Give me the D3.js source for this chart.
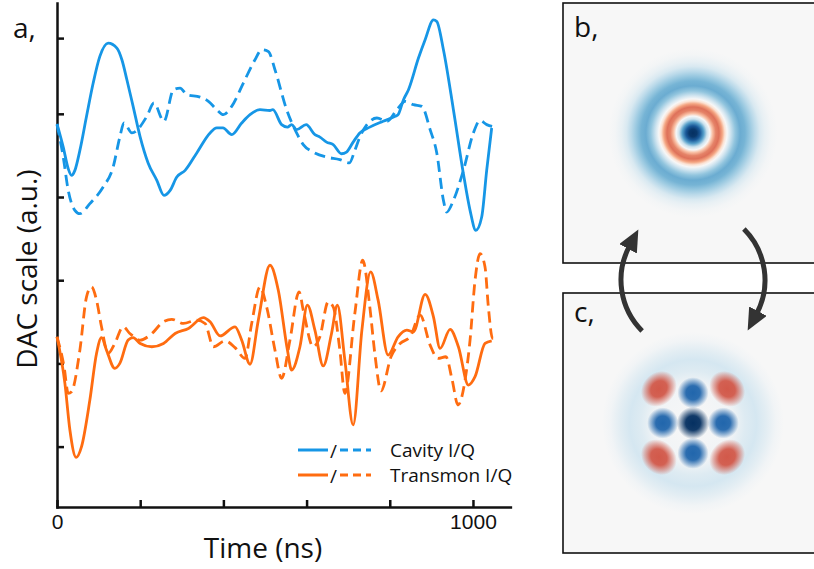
<!DOCTYPE html>
<html lang="en">
<head>
<meta charset="UTF-8">
<title>Cavity and transmon drive pulses</title>
<style>
  body { margin: 0; background: #fff; }
  svg { display: block; font-family: "Open Sans", "DejaVu Sans", sans-serif; }
  svg .axis path, svg .axis line { stroke: #111; stroke-width: 2.5px; }
  svg .axis text { font-size: 21px; fill: #111; }
  svg .trace { fill: none; stroke-width: 2.8px; stroke-linejoin: round; }
  svg .dashed { stroke-dasharray: 11 6; }
  svg .title { font-size: 28px; fill: #111; }
  svg .legend text { font-size: 19px; fill: #111; }
  svg .panel-box { fill: none; stroke: #111; stroke-width: 1.6px; }
  svg .cycle { fill: none; stroke: #333; stroke-width: 5px; }
</style>
</head>
<body>
<div id="chart"></div>
<script src="https://cdn.jsdelivr.net/npm/d3@7"></script>
<script>
  // ticks (time in ns, DAC scale in a.u.)
  var xTicks = [0, 200, 400, 600, 800, 1000];
  var xTickLabels = ['0', '', '', '', '', '1000'];
  var yTicks = [-3, -2, -1, 0, 1, 1.91];

  // [time ns, amplitude a.u.]
  var cavityI = [[0,0.88],[15,0.60],[27,0.34],[35,0.26],[43,0.32],[55,0.56],[71,0.97],[87,1.37],[103,1.69],[123,1.85],
    [144,1.79],[156,1.65],[168,1.41],[183,1.09],[200,0.72],[219,0.41],[240,0.20],[257,0.02],[272,0.08],[288,0.24],
    [308,0.32],[336,0.53],[368,0.77],[384,0.83],[399,0.83],[420,0.75],[444,0.89],[464,0.99],[488,1.05],[512,1.04],
    [519,1.05],[540,0.87],[554,0.84],[564,0.87],[576,0.81],[599,0.87],[620,0.75],[632,0.72],[648,0.66],[664,0.63],
    [684,0.52],[696,0.54],[712,0.66],[728,0.77],[752,0.84],[784,0.91],[813,0.97],[820,0.99],[833,1.17],[845,1.29],
    [869,1.67],[885,1.89],[905,2.13],[913,2.11],[929,1.77],[953,1.05],[977,0.28],[993,-0.16],[1007,-0.40],[1021,-0.24],
    [1033,0.32],[1045,0.83]];
  var cavityQ = [[0,0.87],[15,0.48],[27,0.08],[43,-0.16],[55,-0.20],[79,-0.08],[111,0.12],[135,0.36],[151,0.72],[161,0.89],
    [180,0.77],[216,0.97],[233,1.13],[257,0.91],[280,1.29],[296,1.31],[312,1.23],[344,1.20],[364,1.15],[384,1.05],
    [400,0.99],[420,1.09],[448,1.37],[476,1.65],[492,1.77],[508,1.75],[524,1.53],[552,1.05],[576,0.77],[592,0.63],
    [616,0.54],[648,0.48],[680,0.45],[703,0.41],[716,0.56],[728,0.72],[745,0.87],[769,0.95],[793,0.91],[817,1.05],
    [837,1.15],[857,1.11],[877,1.09],[897,0.81],[913,0.53],[929,-0.04],[937,-0.18],[953,-0.04],[977,0.32],[1001,0.77],
    [1017,0.92],[1033,0.87],[1057,0.84]];
  var transmonI = [[0,-1.68],[19,-2.24],[31,-2.80],[46,-3.13],[59,-3.00],[79,-2.44],[95,-1.88],[107,-1.69],[119,-1.84],[139,-2.06],
    [151,-2.00],[171,-1.72],[183,-1.69],[200,-1.76],[228,-1.80],[256,-1.76],[284,-1.64],[316,-1.58],[352,-1.45],[368,-1.50],
    [392,-1.67],[428,-1.56],[444,-1.72],[464,-2.01],[484,-1.48],[512,-0.82],[532,-1.12],[554,-1.84],[564,-2.08],[584,-1.80],
    [602,-1.30],[620,-1.60],[640,-2.03],[660,-1.64],[674,-1.30],[692,-1.96],[712,-2.74],[733,-1.60],[754,-0.90],[772,-1.24],
    [796,-1.90],[820,-1.68],[841,-1.60],[857,-1.62],[885,-1.17],[905,-1.44],[921,-1.82],[945,-1.59],[965,-1.80],[989,-2.26],
    [1005,-2.16],[1029,-1.76],[1045,-1.73]];
  var transmonQ = [[0,-1.68],[17,-2.04],[27,-2.36],[35,-2.34],[55,-1.84],[71,-1.20],[83,-1.08],[95,-1.24],[107,-1.56],[123,-1.88],
    [139,-1.76],[159,-1.56],[175,-1.64],[200,-1.72],[224,-1.66],[256,-1.50],[276,-1.47],[304,-1.52],[336,-1.48],[356,-1.52],
    [376,-1.80],[404,-1.73],[428,-1.81],[452,-1.94],[468,-1.52],[488,-1.08],[504,-1.32],[524,-1.84],[540,-2.18],[560,-1.72],
    [582,-1.14],[592,-1.36],[616,-1.80],[632,-1.68],[652,-1.26],[664,-1.32],[680,-1.84],[692,-2.36],[716,-1.40],[735,-0.76],
    [752,-1.32],[764,-1.88],[779,-2.33],[803,-1.92],[825,-1.76],[849,-1.68],[873,-1.42],[897,-1.78],[916,-1.94],[935,-1.92],
    [950,-2.20],[964,-2.50],[981,-2.20],[993,-1.72],[1005,-1.00],[1017,-0.68],[1029,-0.84],[1037,-1.32],[1047,-1.70],[1057,-1.70]];

  var legendLabels = ['Cavity I/Q', 'Transmon I/Q'];

  // Wigner function of panel b: radial profile [radius, value]
  var wignerB = [[0,1.0],[0.12,0.97],[0.22,0.85],[0.33,0.55],[0.43,0.22],[0.52,0],[0.6,-0.3],[0.7,-0.5],[0.8,-0.55],
    [0.9,-0.4],[0.98,-0.15],[1.05,0],[1.15,0.2],[1.3,0.4],[1.45,0.5],[1.6,0.47],[1.75,0.38],[1.9,0.27],[2.05,0.16],
    [2.2,0.08],[2.4,0.02],[2.6,0]];
  // Wigner function of panel c: faint outer halo [radius, value]
  var wignerCHalo = [[0,0],[1.2,0.03],[1.6,0.13],[1.95,0.18],[2.25,0.11],[2.55,0.03],[2.8,0]];
  // lobes [re, im, value, radial half-width, tangential half-width]
  var wignerCLobes = [[0,0,1.0,0.5,0.5],[0.93,0,0.8,0.48,0.48],[-0.93,0,0.8,0.48,0.48],[0,0.93,0.8,0.48,0.48],[0,-0.93,0.8,0.48,0.48],
    [1.05,1.05,-0.62,0.5,0.6],[-1.05,1.05,-0.62,0.5,0.6],[1.05,-1.05,-0.62,0.5,0.6],[-1.05,-1.05,-0.62,0.5,0.6]];

  var width = 814,
    height = 569;

  var svg = d3.select('#chart').append('svg')
    .attr('width', width)
    .attr('height', height);
  var defs = svg.append('defs');

  var x = d3.scaleLinear().domain([0, 1090]).range([57, 510.4]),
    y = d3.scaleLinear().domain([-3.726, 2.332]).range([507, 3]);

  // axes, ticks pointing inwards
  svg.append('g')
    .attr('class', 'axis')
    .attr('transform', 'translate(0,507)')
    .call(d3.axisBottom(x).tickValues(xTicks).tickSize(-7).tickSizeOuter(0).tickPadding(7)
      .tickFormat(function(d, i) { return xTickLabels[i]; }));

  svg.append('g')
    .attr('class', 'axis')
    .attr('transform', 'translate(57,0)')
    .call(d3.axisLeft(y).tickValues(yTicks).tickSize(-7).tickSizeOuter(0).tickFormat(''));

  svg.selectAll('.axis .domain').attr('stroke-linecap', 'square');

  var line = d3.line()
    .x(function(d) { return x(d[0]); })
    .y(function(d) { return y(d[1]); })
    .curve(d3.curveMonotoneX);

  var blue = '#1696e6',
    orange = '#ff6c10';

  var traces = [
    {data: transmonQ, color: orange, dashed: true},
    {data: transmonI, color: orange, dashed: false},
    {data: cavityQ, color: blue, dashed: true},
    {data: cavityI, color: blue, dashed: false}
  ];

  svg.append('g').selectAll('path')
    .data(traces)
    .enter()
    .append('path')
    .attr('class', function(d) { return 'trace' + (d.dashed ? ' dashed' : ''); })
    .attr('stroke', function(d) { return d.color; })
    .attr('d', function(d) { return line(d.data); });

  // legend
  var legend = svg.append('g').attr('class', 'legend');
  legendLabels.forEach(function(label, i) {
    var ly = 450 + i * 25,
      c = i === 0 ? blue : orange;
    legend.append('line').attr('x1', 298).attr('x2', 328).attr('y1', ly).attr('y2', ly)
      .attr('stroke', c).attr('stroke-width', 3);
    legend.append('line').attr('x1', 340).attr('x2', 371).attr('y1', ly).attr('y2', ly)
      .attr('stroke', c).attr('stroke-width', 3).attr('stroke-dasharray', '8 5');
    legend.append('text').attr('x', 333.5).attr('y', ly + 8).attr('text-anchor', 'middle').text('/');
    legend.append('text').attr('x', 390).attr('y', ly + 7).text(label);
  });

  // titles
  svg.append('text').attr('class', 'title').attr('x', 263).attr('y', 558)
    .attr('text-anchor', 'middle').text('Time (ns)');
  svg.append('text').attr('class', 'title')
    .attr('transform', 'translate(37,269) rotate(-90)')
    .attr('text-anchor', 'middle').text('DAC scale (a.u.)');
  svg.append('text').attr('class', 'title').attr('x', 13).attr('y', 38).text('a,');

  // Wigner panels, RdBu with blue for positive values
  var rdbu = d3.schemeRdBu[11];
  var color = d3.scaleLinear()
    .domain(d3.range(11).map(function(i) { return -1 + i / 5; }))
    .range(rdbu)
    .clamp(true);
  var side = 260,
    ps = d3.scaleLinear().domain([-4, 4]).range([0, side]);

  var radialGradient = function(id, profile) {
    var rMax = profile[profile.length - 1][0];
    defs.append('radialGradient').attr('id', id)
      .selectAll('stop')
      .data(profile)
      .enter()
      .append('stop')
      .attr('offset', function(d) { return d[0] / rMax; })
      .attr('stop-color', function(d) { return color(d[1]); });
    return ps(rMax) - ps(0);
  };

  var panels = [{key: 'b', x0: 563, y0: 3}, {key: 'c', x0: 563, y0: 293}];

  panels.forEach(function(p) {
    defs.append('clipPath').attr('id', 'clip-' + p.key)
      .append('rect').attr('width', side).attr('height', side);
    var g = svg.append('g').attr('transform', 'translate(' + p.x0 + ',' + p.y0 + ')');
    var inner = g.append('g').attr('clip-path', 'url(#clip-' + p.key + ')');
    inner.append('rect').attr('width', side).attr('height', side).attr('fill', color(0));

    if (p.key === 'b') {
      var rb = radialGradient('wig-b', wignerB);
      inner.append('circle').attr('cx', ps(0)).attr('cy', ps(0)).attr('r', rb).attr('fill', 'url(#wig-b)');
    } else {
      var rh = radialGradient('wig-c-halo', wignerCHalo);
      inner.append('circle').attr('cx', ps(0)).attr('cy', ps(0)).attr('r', rh).attr('fill', 'url(#wig-c-halo)');
      wignerCLobes.forEach(function(d, i) {
        var gr = defs.append('radialGradient').attr('id', 'lobe-' + i);
        [[0, 1], [0.45, 0.95], [0.78, 0.4], [1, 0]].forEach(function(s) {
          gr.append('stop').attr('offset', s[0]).attr('stop-color', color(d[2])).attr('stop-opacity', s[1]);
        });
        var angle = -Math.atan2(d[1], d[0]) * 180 / Math.PI;
        inner.append('ellipse')
          .attr('transform', 'translate(' + ps(d[0]) + ',' + ps(-d[1]) + ') rotate(' + angle + ')')
          .attr('rx', ps(d[3]) - ps(0))
          .attr('ry', ps(d[4]) - ps(0))
          .attr('fill', 'url(#lobe-' + i + ')');
      });
    }

    g.append('rect').attr('class', 'panel-box').attr('width', side).attr('height', side);
    g.append('text').attr('class', 'title').attr('x', 11).attr('y', p.key === 'b' ? 34 : 29).text(p.key + ',');
  });

  // cycle arrows between b and c
  defs.append('marker').attr('id', 'head')
    .attr('markerUnits', 'userSpaceOnUse')
    .attr('markerWidth', 24).attr('markerHeight', 24)
    .attr('refX', 3).attr('refY', 10)
    .attr('orient', 'auto')
    .append('path').attr('d', 'M0,0L22,10L0,20Z').attr('fill', '#333');

  var cyc = {cx: 693, cy: 280, r: 72};
  var arcPath = function(a0, a1) {
    var t0 = a0 * Math.PI / 180, t1 = a1 * Math.PI / 180;
    return 'M' + (cyc.cx + cyc.r * Math.cos(t0)) + ',' + (cyc.cy + cyc.r * Math.sin(t0)) +
      'A' + cyc.r + ',' + cyc.r + ' 0 0 1 ' + (cyc.cx + cyc.r * Math.cos(t1)) + ',' + (cyc.cy + cyc.r * Math.sin(t1));
  };
  [[135, 208], [-45, 28]].forEach(function(a) {
    svg.append('path').attr('class', 'cycle').attr('d', arcPath(a[0], a[1])).attr('marker-end', 'url(#head)');
  });
</script>
</body>
</html>
